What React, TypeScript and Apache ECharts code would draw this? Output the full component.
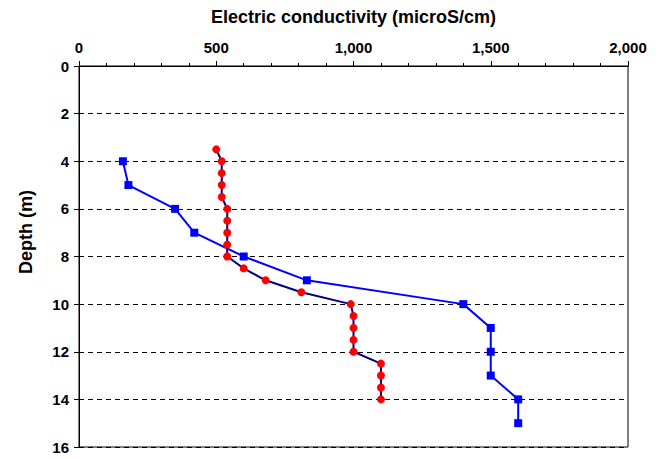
import React, { useEffect, useRef } from "react";
import * as echarts from "echarts";

const blueDepths = [4, 5, 6, 7, 8, 9, 10, 11, 12, 13, 14, 15];
const blueValues = [160, 180, 350, 420, 600, 830, 1400, 1500, 1500, 1500, 1600, 1600];
const redDepths = [3.5, 4, 4.5, 5, 5.5, 6, 6.5, 7, 7.5, 8, 8.5, 9, 9.5, 10, 10.5, 11, 11.5, 12, 12.5, 13, 13.5, 14];
const redValues = [500, 520, 520, 520, 520, 540, 540, 540, 540, 540, 600, 680, 810, 990, 1000, 1000, 1000, 1000, 1100, 1100, 1100, 1100];

const FONT = "Liberation Sans, Arial, sans-serif";

export default function App() {
  const ref = useRef<HTMLDivElement>(null);
  useEffect(() => {
    const chart = echarts.init(ref.current!, null, { renderer: "svg" });
    chart.setOption({
      animation: false,
      backgroundColor: "#fff",
      grid: { left: 79, right: 33, top: 66, bottom: 12, show: true, borderColor: "#000", borderWidth: 1, backgroundColor: "transparent" },
      graphic: [
        {
          type: "text",
          x: 26,
          y: 232,
          rotation: Math.PI / 2,
          style: {
            text: "Depth (m)",
            fontFamily: FONT,
            fontWeight: "bold",
            fontSize: 18,
            fill: "#000",
            align: "center",
            verticalAlign: "middle",
          },
        },
      ],
      xAxis: {
        type: "value",
        position: "top",
        min: 0,
        max: 2000,
        interval: 500,
        name: "Electric conductivity (microS/cm)",
        nameLocation: "middle",
        nameGap: 40,
        nameTextStyle: { fontFamily: FONT, fontWeight: "bold", fontSize: 18, color: "#000" },
        axisLine: { show: true, lineStyle: { color: "#000", width: 1 } },
        axisTick: { show: true, inside: false, length: 5, lineStyle: { color: "#000" } },
        minorTick: { show: true, splitNumber: 5, length: 3, lineStyle: { color: "#000" } },
        axisLabel: {
          fontFamily: FONT, fontWeight: "bold", fontSize: 15, color: "#000", margin: 11,
          formatter: (v: number) => v.toLocaleString("en-US"),
        },
        splitLine: { show: false },
      },
      yAxis: {
        type: "value",
        inverse: true,
        min: 0,
        max: 16,
        interval: 2,
        axisLine: { show: true, lineStyle: { color: "#000", width: 1 } },
        axisTick: { show: true, length: 5, lineStyle: { color: "#000" } },
        axisLabel: { fontFamily: FONT, fontWeight: "bold", fontSize: 15, color: "#000", margin: 10 },
        splitLine: { show: true, lineStyle: { color: "#000", type: [5, 4], width: 1 } },
      },
      series: [
        {
          type: "line",
          data: blueDepths.map((d, i) => [blueValues[i], d]),
          symbol: "rect",
          symbolSize: 8,
          lineStyle: { color: "#0000ff", width: 2 },
          itemStyle: { color: "#0000ff" },
        },
        {
          type: "line",
          data: redDepths.map((d, i) => [redValues[i], d]),
          symbol: "circle",
          symbolSize: 8,
          lineStyle: { color: "#000080", width: 2 },
          itemStyle: { color: "#ff0000" },
        },
      ],
    });
    return () => chart.dispose();
  }, []);
  return <div ref={ref} style={{ width: 661, height: 459, position: "absolute", left: 0, top: 0 }} />;
}
